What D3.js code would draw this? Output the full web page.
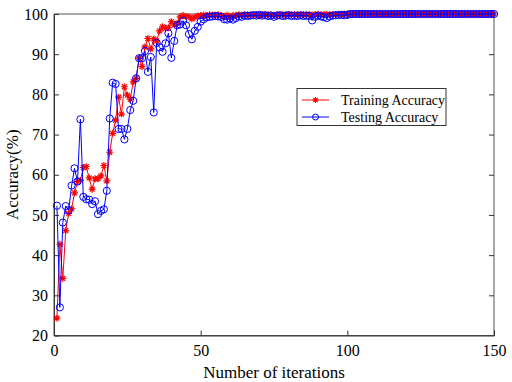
<!DOCTYPE html>
<html><head><meta charset="utf-8">
<script src="https://cdn.jsdelivr.net/npm/d3@7"></script>
<style>body{margin:0;background:#fff}svg{display:block}</style>
</head><body>
<svg id="c" width="512" height="382"></svg>
<script>
const xTicks = [0, 50, 100, 150];
const yTicks = [20, 30, 40, 50, 60, 70, 80, 90, 100];
const seriesNames = ["Training Accuracy", "Testing Accuracy"];

const trainHead = [24.3,42.7,34.2,46.1,50.4,51.5,55.5,58.3,58.6,61.8,62.0,59.2,56.4,59.0,59.0,59.7,62.3,58.5,65.6,70.3,
  73.6,79.3,75.1,81.9,79.8,78.8,83.1,84.0,89.0,86.9,91.8,93.9,91.3,93.8,93.3,95.8,96.8,96.4,96.6,98.1,
  97.3,97.7,99.3,99.6,99.4,99.3,98.8,99.2,99.5,99.6,99.7,99.6,99.8,99.7,99.7,99.8,99.6,99.3,99.7,99.2,
  99.6,99.7,99.8,99.7,99.8,99.8,99.7,99.9,99.8,99.5,99.8,99.8,99.9,99.8,99.7,99.8,99.9,99.8,99.8,99.9,
  99.8,99.9,99.8,99.7,99.9,99.8,99.9,99.7,99.9,99.9,99.8,99.9,99.9,99.8,99.9,99.9,99.9,99.9,100,100];
const testHead = [52.3,27.0,48.1,52.2,51.2,57.3,61.6,58.3,73.8,54.5,53.9,53.8,52.7,53.4,50.2,51.0,51.4,56.0,74.0,82.9,
  82.6,71.4,71.4,68.8,71.4,76.1,78.4,84.0,89.0,89.0,90.8,85.6,89.3,75.5,92.8,91.7,90.6,92.7,95.2,89.1,
  93.3,97.2,97.4,98.3,97.2,95.0,93.7,95.8,96.8,98.1,98.7,99.2,99.3,99.4,99.5,99.4,99.3,98.7,98.6,98.9,
  98.6,99.0,99.4,99.3,99.6,99.5,99.6,99.7,99.6,99.8,99.6,99.7,99.5,99.6,99.3,99.6,99.7,99.5,99.6,99.7,
  99.5,99.6,99.5,99.7,99.5,99.6,99.5,98.4,99.3,99.6,99.4,99.2,99.0,99.4,99.6,99.7,99.7,99.8,99.7,99.8];
const trainTail = Array(50).fill(100);
const testTail = Array(50).fill(100);
const training = trainHead.concat(trainTail);
const testing = testHead.concat(testTail);

const svg = d3.select("#c");
const L = 54, R = 494, T = 14, B = 335.5;
const x = d3.scaleLinear().domain([0, 150]).range([L, R]);
const y = d3.scaleLinear().domain([20, 100]).range([B, T]);
const font = "'Liberation Serif','Times New Roman',serif";
const axisColor = "#333";

// frame
svg.append("rect").attr("x", L).attr("y", T).attr("width", R - L).attr("height", B - T)
  .attr("fill", "none").attr("stroke", "#555").attr("stroke-width", 1);

// bottom axis (ticks inward)
const gx = svg.append("g").attr("transform", `translate(0,${B})`)
  .call(d3.axisBottom(x).tickValues(xTicks).tickSize(-5).tickPadding(9).tickFormat(d3.format("d")));
gx.select(".domain").attr("stroke", axisColor);
gx.selectAll(".tick line").attr("stroke", axisColor);
gx.selectAll("text").attr("font-family", font).attr("font-size", 16).attr("fill", "#000");
gx.selectAll(".tick").filter(d => d === 0 || d === 150).select("line").remove();
// top ticks
const gxt = svg.append("g").attr("transform", `translate(0,${T})`)
  .call(d3.axisTop(x).tickValues(xTicks.filter(d => d > 0 && d < 150)).tickSize(-5).tickFormat(""));
gxt.select(".domain").remove();
gxt.selectAll(".tick line").attr("stroke", axisColor);

// left axis
const gy = svg.append("g").attr("transform", `translate(${L},0)`)
  .call(d3.axisLeft(y).tickValues(yTicks).tickSize(-5).tickPadding(6).tickFormat(d3.format("d")));
gy.select(".domain").attr("stroke", axisColor);
gy.selectAll(".tick line").attr("stroke", axisColor);
gy.selectAll("text").attr("font-family", font).attr("font-size", 16).attr("fill", "#000");
gy.selectAll(".tick").filter(d => d === 20 || d === 100).select("line").remove();
// right ticks
const gyr = svg.append("g").attr("transform", `translate(${R},0)`)
  .call(d3.axisRight(y).tickValues(yTicks.filter(d => d > 20 && d < 100)).tickSize(-5).tickFormat(""));
gyr.select(".domain").remove();
gyr.selectAll(".tick line").attr("stroke", axisColor);

// axis labels
svg.append("text").attr("x", (L + R) / 2).attr("y", 378).attr("text-anchor", "middle")
  .attr("font-family", font).attr("font-size", 17).text("Number of iterations");
svg.append("text").attr("transform", `translate(18,${(T + B) / 2}) rotate(-90)`).attr("text-anchor", "middle")
  .attr("font-family", font).attr("font-size", 17).text("Accuracy(%)");

// series
const line = d3.line().x((d, i) => x(i + 1)).y(d => y(d));
const star = (s) => {
  const p = d3.path();
  for (let k = 0; k < 4; k++) {
    const a = k * Math.PI / 4;
    p.moveTo(-s * Math.cos(a), -s * Math.sin(a));
    p.lineTo(s * Math.cos(a), s * Math.sin(a));
  }
  return p.toString();
};

const gTrain = svg.append("g");
gTrain.append("path").datum(training).attr("d", line).attr("fill", "none").attr("stroke", "#ff0000").attr("stroke-width", 1);
gTrain.selectAll("path.m").data(training).join("path").attr("class", "m")
  .attr("transform", (d, i) => `translate(${x(i + 1)},${y(d)})`)
  .attr("d", star(3.5)).attr("stroke", "#ff0000").attr("stroke-width", 1.2).attr("fill", "none");

const gTest = svg.append("g");
gTest.append("path").datum(testing).attr("d", line).attr("fill", "none").attr("stroke", "#0000ff").attr("stroke-width", 1);
gTest.selectAll("circle").data(testing).join("circle")
  .attr("cx", (d, i) => x(i + 1)).attr("cy", d => y(d)).attr("r", 3.6)
  .attr("fill", "none").attr("stroke", "#0000ff").attr("stroke-width", 1);

// legend
const lg = svg.append("g");
lg.append("rect").attr("x", 297).attr("y", 88.5).attr("width", 149).attr("height", 37)
  .attr("fill", "#fff").attr("stroke", "#333").attr("stroke-width", 1);
const colors = ["#ff0000", "#0000ff"];
seriesNames.forEach((name, i) => {
  const yy = 100 + i * 17;
  lg.append("line").attr("x1", 302).attr("x2", 329).attr("y1", yy).attr("y2", yy)
    .attr("stroke", colors[i]).attr("stroke-width", 1);
  if (i === 0) {
    lg.append("path").attr("transform", `translate(315.5,${yy})`).attr("d", star(3))
      .attr("stroke", colors[i]).attr("stroke-width", 1.2).attr("fill", "none");
  } else {
    lg.append("circle").attr("cx", 315.5).attr("cy", yy).attr("r", 3)
      .attr("fill", "none").attr("stroke", colors[i]).attr("stroke-width", 1);
  }
  lg.append("text").attr("x", 341).attr("y", yy + 5).attr("font-family", font).attr("font-size", 14)
    .text(name);
});
</script>
</body></html>
